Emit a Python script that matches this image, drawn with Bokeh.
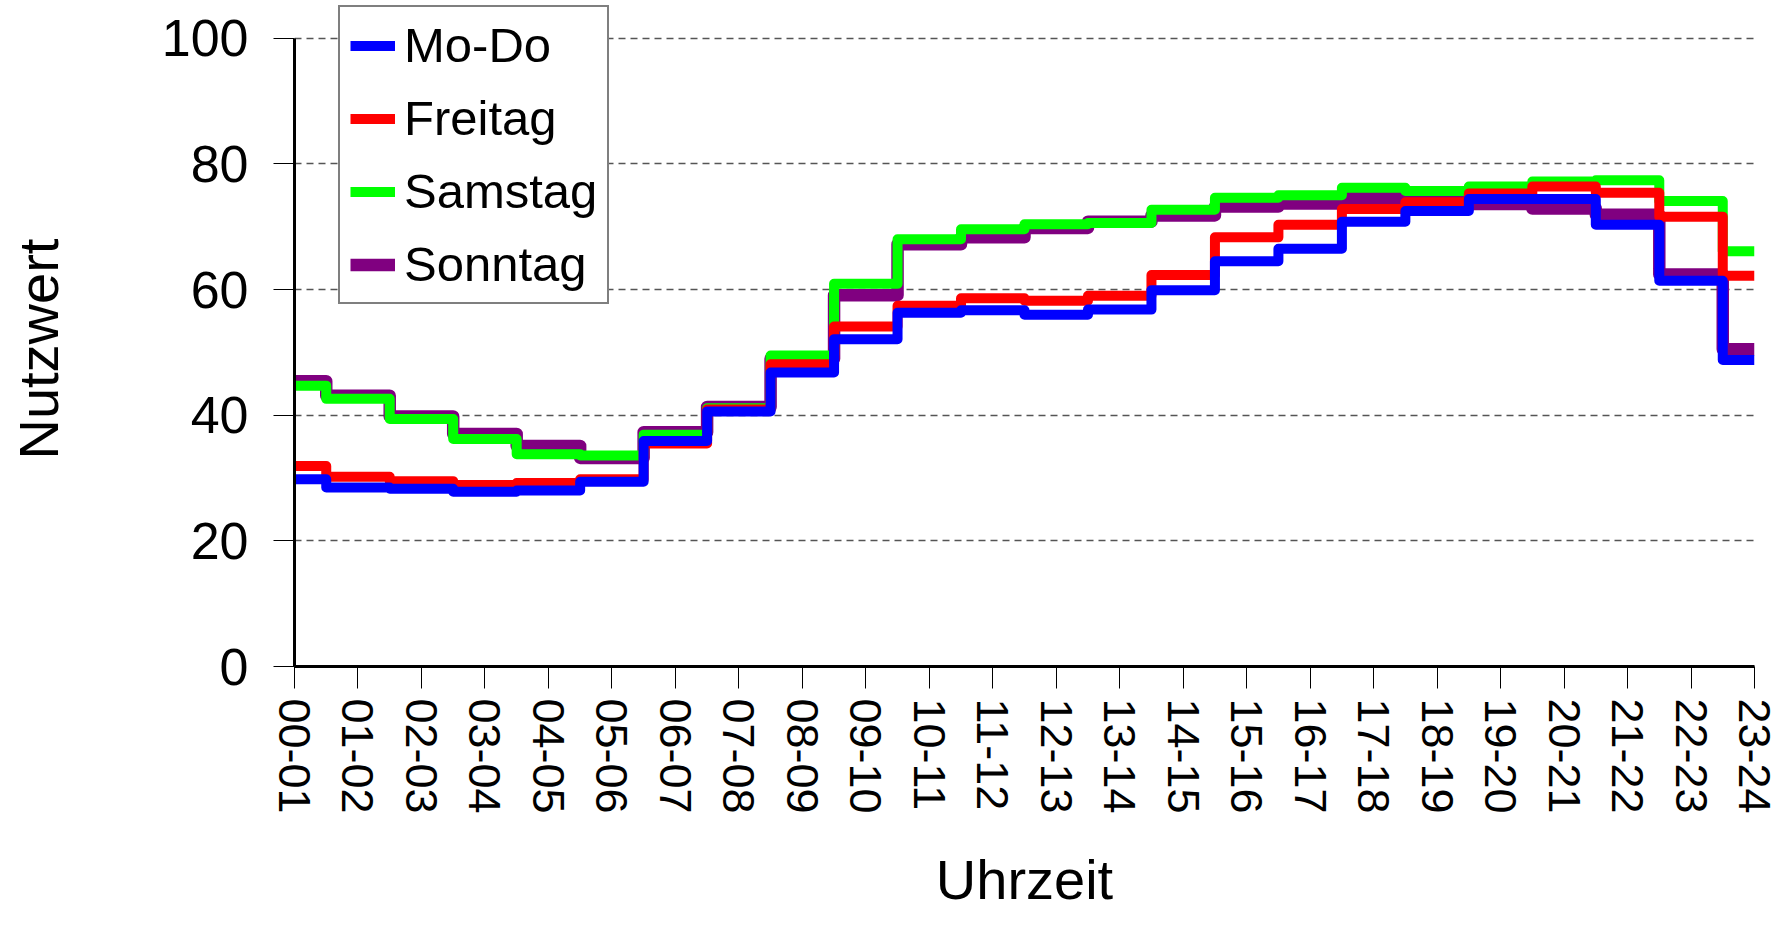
from bokeh.plotting import figure
from bokeh.models import Range1d, FixedTicker, Legend, LegendItem
from bokeh.embed import file_html
from bokeh.resources import INLINE

hours = ["00-01", "01-02", "02-03", "03-04", "04-05", "05-06", "06-07", "07-08",
         "08-09", "09-10", "10-11", "11-12", "12-13", "13-14", "14-15", "15-16",
         "16-17", "17-18", "18-19", "19-20", "20-21", "21-22", "22-23", "23-24"]

mo_do = [29.8, 28.5, 28.3, 27.8, 28.0, 29.4, 35.9, 40.6, 46.8, 52.1, 56.3, 56.7,
         56.0, 56.8, 59.9, 64.5, 66.5, 70.8, 72.5, 74.4, 74.4, 70.3, 61.4, 48.8]
freitag = [31.9, 30.2, 29.5, 28.9, 29.2, 29.8, 35.5, 40.9, 48.1, 54.1, 57.4, 58.6,
           58.2, 59.0, 62.3, 68.3, 70.3, 72.8, 73.9, 75.3, 76.4, 75.4, 71.6, 62.2]
samstag = [44.7, 42.6, 39.4, 36.2, 33.8, 33.6, 36.9, 41.1, 49.5, 60.9, 68.0, 69.6,
           70.4, 70.6, 72.7, 74.6, 75.0, 76.2, 75.7, 76.4, 77.2, 77.4, 74.1, 66.1]
sonntag = [45.4, 43.1, 39.8, 37.0, 35.1, 33.2, 37.3, 41.3, 49.0, 59.1, 67.2, 68.3,
           69.8, 70.8, 71.8, 73.2, 73.7, 74.6, 74.1, 73.6, 72.9, 71.9, 62.4, 50.5]

y_ticks = [0, 20, 40, 60, 80, 100]
x = list(range(len(hours)))

FONT = "Liberation Sans"

# frame spans the full canvas height above the x axis; the y axis itself is bounded to 0..100
p = figure(width=1782, height=925, output_backend="svg", toolbar_location=None,
           x_range=Range1d(0, len(hours) - 1), y_range=Range1d(0, 106.0),
           min_border_left=294, min_border_top=0, min_border_right=28,
           min_border_bottom=259)
p.outline_line_color = None
p.background_fill_color = "white"
p.border_fill_color = "white"

r_so = p.step(x, sonntag, mode="center", line_color="#800080", line_width=12.5, line_join="round")
r_sa = p.step(x, samstag, mode="center", line_color="#00FF00", line_width=10, line_join="round")
r_fr = p.step(x, freitag, mode="center", line_color="#FF0000", line_width=10, line_join="round")
r_mo = p.step(x, mo_do, mode="center", line_color="#0000FF", line_width=10, line_join="round")

# axes
p.xaxis.ticker = FixedTicker(ticks=x)
p.xaxis.major_label_overrides = {i: h for i, h in enumerate(hours)}
p.xaxis.major_label_orientation = "vertical"
p.yaxis.ticker = FixedTicker(ticks=y_ticks)
p.yaxis.bounds = (0, 100)
for ax in (p.xaxis[0], p.yaxis[0]):
    ax.axis_line_color = "black"
    ax.axis_line_width = 3
    ax.major_tick_line_color = "black"
    ax.major_tick_line_width = 1
    ax.major_tick_in = 0
    ax.minor_tick_line_color = None
    ax.major_label_text_font = FONT
    ax.major_label_text_color = "black"
    ax.axis_label_text_font = FONT
    ax.axis_label_text_font_style = "normal"
    ax.axis_label_text_color = "black"

p.xaxis.major_tick_out = 22
p.xaxis.major_label_standoff = 10
p.xaxis.major_label_text_font_size = "45px"
p.xaxis.axis_label = "Uhrzeit"
p.xaxis.axis_label_text_font_size = "56px"
p.xaxis.axis_label_standoff = 31

p.yaxis.major_tick_out = 21
p.yaxis.major_label_standoff = 25
p.yaxis.major_label_text_font_size = "52px"
# two trailing no-break spaces keep the title centred on the 0..100 span (frame is taller)
p.yaxis.axis_label = "Nutzwert\u00a0\u00a0"
p.yaxis.axis_label_text_font_size = "56px"
p.yaxis.axis_label_standoff = 89

p.xgrid.grid_line_color = None
p.ygrid.grid_line_color = "#555555"
p.ygrid.grid_line_width = 1.5
p.ygrid.grid_line_dash = "7 5"

legend = Legend(items=[
    LegendItem(label="Mo-Do", renderers=[r_mo]),
    LegendItem(label="Freitag", renderers=[r_fr]),
    LegendItem(label="Samstag", renderers=[r_sa]),
    LegendItem(label="Sonntag", renderers=[r_so]),
], location=(44, 362))
legend.label_text_font = FONT
legend.label_text_font_size = "49px"
legend.label_text_color = "black"
legend.label_standoff = 9
legend.label_height = 55
legend.glyph_height = 55
legend.glyph_width = 45
legend.spacing = 17
legend.padding = 10
legend.margin = 0
legend.border_line_color = "black"
legend.border_line_width = 2.5
legend.background_fill_color = "white"
legend.background_fill_alpha = 1.0
p.add_layout(legend, "center")

open("out.html", "w").write(file_html(p, INLINE))
